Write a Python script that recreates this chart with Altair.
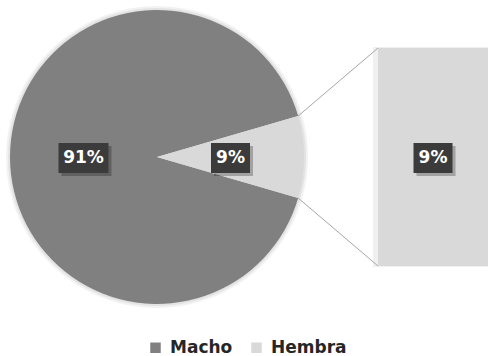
import math
import altair as alt
import pandas as pd

# ---- data ----
categories = ["Macho", "Hembra"]
values = [91, 9]
label_texts = ["91%", "9%"]
bar_categories = ["Hembra"]
bar_values = [9]
bar_labels = ["9%"]
colors = ["#808080", "#d9d9d9"]

# ---- layout (pixels) ----
W, H = 491, 356
CX, CY, R = 157, 157, 147
BAR_X0, BAR_X1, BAR_TOP, BAR_BOT = 378, 488, 48, 266
FONT = "DejaVu Sans"

total = sum(values)
frac_h = values[1] / total
start = math.pi / 2 - frac_h * math.pi  # Hembra centred pointing right

pie_df = pd.DataFrame({"cat": categories, "value": values, "ord": [1, 0]})

# label positions derived from the data (mid angle of each slice)
rows = []
acc = 0.0
for cat, v, t in sorted(zip(categories, values, label_texts), key=lambda r: 0 if r[0] == "Hembra" else 1):
    mid = start + (acc + v / 2) / total * 2 * math.pi
    acc += v
    rl = 0.5 * R
    px = CX + rl * math.sin(mid)
    py = CY - rl * math.cos(mid)
    rows.append({"text": t, "px": px, "py": py})
for t in bar_labels:
    rows.append({"text": t, "px": (BAR_X0 + BAR_X1) / 2, "py": (BAR_TOP + BAR_BOT) / 2})
lab = pd.DataFrame(rows)
lab["py"] = lab["py"] + 1
lab["w"] = 17 + 11 * lab["text"].str.len()
lab["x0"] = lab["px"] - lab["w"] / 2
lab["x1"] = lab["px"] + lab["w"] / 2
lab["y0"] = lab["py"] - 15
lab["y1"] = lab["py"] + 15
lab["sx0"] = lab["x0"] + 3
lab["sx1"] = lab["x1"] + 3
lab["sy0"] = lab["y0"] + 3
lab["sy1"] = lab["y1"] + 3

# connector lines: from wedge edges to bar corners
a1 = start
a2 = start + frac_h * 2 * math.pi
conn = pd.DataFrame({
    "x": [CX + R * math.sin(a1), CX + R * math.sin(a2)],
    "y": [CY - R * math.cos(a1), CY - R * math.cos(a2)],
    "x2": [BAR_X0, BAR_X0],
    "y2": [BAR_TOP, BAR_BOT],
})

bar_df = pd.DataFrame({"cat": bar_categories, "start": [0], "end": bar_values})

theta_scale = alt.Scale(range=[start, start + 2 * math.pi])

glow = alt.Chart(pie_df).mark_arc(outerRadius=R + 4, color="#000000", opacity=0.05).encode(
    theta=alt.Theta("value:Q", stack=True, scale=theta_scale),
    order=alt.Order("ord:Q"),
    x=alt.value(CX), y=alt.value(CY),
)
glow2 = alt.Chart(pie_df).mark_arc(outerRadius=R + 2, color="#000000", opacity=0.06).encode(
    theta=alt.Theta("value:Q", stack=True, scale=theta_scale),
    order=alt.Order("ord:Q"),
    x=alt.value(CX), y=alt.value(CY),
)

pie = alt.Chart(pie_df).mark_arc(outerRadius=R, stroke=None).encode(
    theta=alt.Theta("value:Q", stack=True, scale=theta_scale),
    order=alt.Order("ord:Q"),
    color=alt.Color(
        "cat:N",
        scale=alt.Scale(domain=categories, range=colors),
        sort=categories,
        legend=alt.Legend(
            title=None,
            orient="none",
            legendX=147,
            legendY=339,
            direction="horizontal",
            symbolType="square",
            symbolSize=110,
            symbolStrokeWidth=0,
            labelFontSize=17,
            labelFontWeight="bold",
            labelFont=FONT,
            labelColor="#262626",
            columnPadding=15,
            labelOffset=6,
        ),
    ),
    x=alt.value(CX), y=alt.value(CY),
)

bar_shadow = alt.Chart(bar_df).mark_rect(color="#000000", opacity=0.06).encode(
    x=alt.value(BAR_X0 - 5), x2=alt.value(BAR_X1),
    y=alt.Y("start:Q", scale=alt.Scale(domain=[0, 9], range=[BAR_BOT + 1, BAR_TOP - 1]), axis=None),
    y2="end:Q",
)
bar = alt.Chart(bar_df).mark_rect(color=colors[1]).encode(
    x=alt.value(BAR_X0), x2=alt.value(BAR_X1),
    y=alt.Y("start:Q", scale=alt.Scale(domain=[0, 9], range=[BAR_BOT, BAR_TOP]), axis=None),
    y2="end:Q",
)

lines = alt.Chart(conn).mark_rule(color="#a6a6a6", strokeWidth=1).encode(
    x=alt.X("x:Q", scale=None), y=alt.Y("y:Q", scale=None),
    x2="x2:Q", y2="y2:Q",
)

box_shadow = alt.Chart(lab).mark_rect(color="#000000", opacity=0.25).encode(
    x=alt.X("sx0:Q", scale=None), x2="sx1:Q",
    y=alt.Y("sy0:Q", scale=None), y2="sy1:Q",
)
box = alt.Chart(lab).mark_rect(color="#3b3b3b").encode(
    x=alt.X("x0:Q", scale=None), x2="x1:Q",
    y=alt.Y("y0:Q", scale=None), y2="y1:Q",
)
txt = alt.Chart(lab).mark_text(
    color="#ffffff", fontSize=17, fontWeight="bold", font=FONT, baseline="middle", align="center"
).encode(
    x=alt.X("px:Q", scale=None), y=alt.Y("py:Q", scale=None), text="text:N",
)

chart = alt.layer(
    glow, glow2, pie, bar_shadow, bar, lines, box_shadow, box, txt
).resolve_scale(y="independent", x="independent").properties(
    width=W, height=H, padding=0, autosize=alt.AutoSizeParams(type="none"),
    background="#ffffff",
).configure_view(stroke=None)

chart.save("out.html", embed_options={"renderer": "svg", "actions": False})
